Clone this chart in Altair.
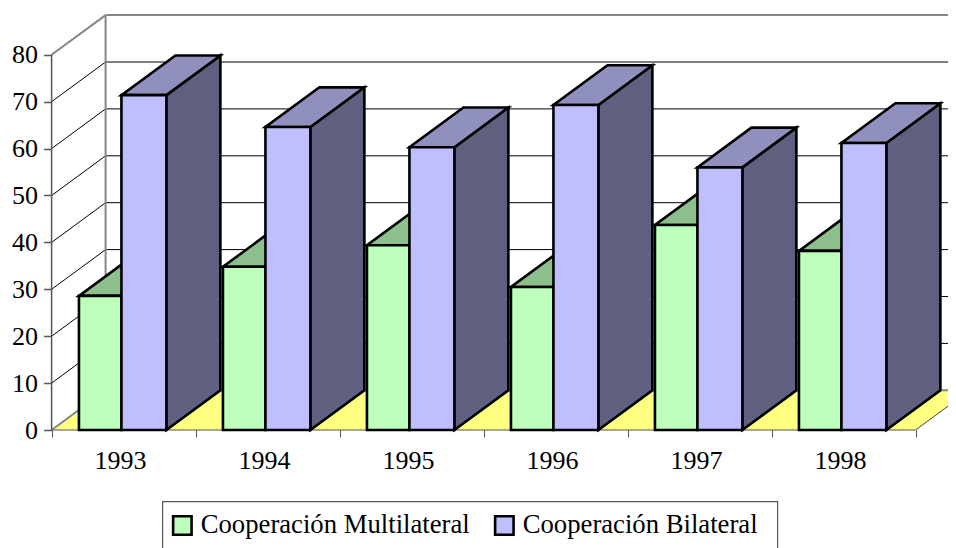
import altair as alt
import pandas as pd

years = ["1993", "1994", "1995", "1996", "1997", "1998"]
multilateral = [28.6, 34.8, 39.4, 30.5, 43.7, 38.2]
bilateral = [71.4, 64.6, 60.3, 69.3, 56.0, 61.2]
y_ticks = [0, 10, 20, 30, 40, 50, 60, 70, 80]
SER_M = "Cooperación Multilateral"
SER_B = "Cooperación Bilateral"

PITCH = 144.0
X0, Y0, PPU = 51.6, 430.0, 4.69
W, H = 940, 540
DX, DY = 54 / PITCH, 39.7 / PPU
N = len(years)
G0, G1, B1 = 0.19, 0.485, 0.797
STROKE = 2.6

x_scale = alt.Scale(domain=[(8 - X0) / PITCH, (8 + W - X0) / PITCH], nice=False, zero=False)
y_scale = alt.Scale(domain=[(Y0 - 8 - H) / PPU, (Y0 - 8) / PPU], nice=False, zero=False)
X = lambda f: alt.X(f, type="quantitative", scale=x_scale, axis=None)
Y = lambda f: alt.Y(f, type="quantitative", scale=y_scale, axis=None, stack=None)

# walls
side_lines = pd.DataFrame(
    [dict(v=v, x=x, y=v + d) for v in y_ticks for x, d in ((0, 0), (DX, DY))]
)
side_thin = (
    alt.Chart(side_lines[(side_lines.v > 0) & (side_lines.v < 80)])
    .mark_line(color="#000000", strokeWidth=1)
    .encode(x=X("x"), y=Y("y"), detail="v:N")
)
side_edge = (
    alt.Chart(side_lines[side_lines.v.isin([0, 80])])
    .mark_line(color="#868686", strokeWidth=2)
    .encode(x=X("x"), y=Y("y"), detail="v:N")
)
back = pd.DataFrame(
    [dict(v=v, x=DX, x2=N + DX, y=v + DY) for v in y_ticks]
)
back_thin = (
    alt.Chart(back[(back.v > 0) & (back.v < 80)])
    .mark_rule(color="#000000", strokeWidth=1)
    .encode(x=X("x"), x2="x2", y=Y("y"))
)
back_top = (
    alt.Chart(back[back.v.isin([80])])
    .mark_rule(color="#868686", strokeWidth=2)
    .encode(x=X("x"), x2="x2", y=Y("y"))
)
wall_left = (
    alt.Chart(pd.DataFrame([dict(x=DX, y=DY, y2=80 + DY)]))
    .mark_rule(color="#868686", strokeWidth=2)
    .encode(x=X("x"), y=Y("y"), y2="y2")
)
front_left = (
    alt.Chart(pd.DataFrame([dict(x=0, y=0, y2=80)]))
    .mark_rule(color="#555555", strokeWidth=1.5)
    .encode(x=X("x"), y=Y("y"), y2="y2")
)

# floor
floor_df = pd.DataFrame(
    [dict(y=0, x=0, x2=N), dict(y=DY, x=DX, x2=N + DX)]
)
floor = (
    alt.Chart(floor_df)
    .mark_area(orient="horizontal", color="#FFFF80")
    .encode(y=Y("y"), x=X("x"), x2="x2")
)
floor_back = (
    alt.Chart(back[back.v == 0])
    .mark_rule(color="#868686", strokeWidth=2)
    .encode(x=X("x"), x2="x2", y=Y("y"))
)
floor_right = (
    alt.Chart(pd.DataFrame([dict(x=N, y=0), dict(x=N + DX, y=DY)]))
    .mark_line(color="#444444", strokeWidth=1)
    .encode(x=X("x"), y=Y("y"))
)


def top_df(values, a, b):
    rows = []
    for i, (yr, v) in enumerate(zip(years, values)):
        rows.append(dict(year=yr, y=v, x=i + a, x2=i + b))
        rows.append(dict(year=yr, y=v + DY, x=i + a + DX, x2=i + b + DX))
    return pd.DataFrame(rows)


def top_layer(values, a, b, col):
    return (
        alt.Chart(top_df(values, a, b))
        .mark_area(orient="horizontal", color=col, stroke="#000000", strokeWidth=STROKE, strokeJoin="miter")
        .encode(y=Y("y"), x=X("x"), x2="x2", detail="year:N")
    )


side_rows = []
for i, (yr, v) in enumerate(zip(years, bilateral)):
    side_rows.append(dict(year=yr, x=i + B1, y=0, y2=v))
    side_rows.append(dict(year=yr, x=i + B1 + DX, y=DY, y2=v + DY))
blue_side = (
    alt.Chart(pd.DataFrame(side_rows))
    .mark_area(color="#5F5F80", stroke="#000000", strokeWidth=STROKE, strokeJoin="miter")
    .encode(x=X("x"), y=Y("y"), y2="y2", detail="year:N")
)

# legend box: frame around the legend, open past the bottom of the page
box = (
    alt.Chart(pd.DataFrame([dict(
        x=(162.6 - X0) / PITCH, x2=(777.6 - X0) / PITCH,
        y=(Y0 - 501.7) / PPU, y2=(Y0 - 570) / PPU,
    )]))
    .mark_rect(fill="#FFFFFF", stroke="#555555", strokeWidth=1.2)
    .encode(x=X("x"), x2="x2", y=Y("y"), y2="y2")
)

# fronts (carry the legend)
front_rows = []
for i, yr in enumerate(years):
    front_rows.append(dict(year=yr, series=SER_M, x=i + G0, x2=i + G1, y=0, y2=multilateral[i]))
    front_rows.append(dict(year=yr, series=SER_B, x=i + G1, x2=i + B1, y=0, y2=bilateral[i]))
fronts = (
    alt.Chart(pd.DataFrame(front_rows))
    .mark_bar(stroke="#000000", strokeWidth=STROKE)
    .encode(
        x=X("x"),
        x2="x2",
        y=Y("y"),
        y2="y2",
        color=alt.Color(
            "series:N",
            scale=alt.Scale(domain=[SER_M, SER_B], range=["#BBFFBB", "#BFBFFF"]),
            legend=alt.Legend(
                orient="none",
                legendX=161,
                legendY=504,
                direction="horizontal",
                columns=2,
                title=None,
                padding=0,
                symbolType="square",
                symbolSize=340,
                symbolStrokeColor="#000000",
                symbolStrokeWidth=2.6,
                symbolOpacity=1,
                labelFont="Liberation Serif",
                labelFontSize=26.7,
                labelColor="#000000",
                labelOffset=5,
                labelLimit=0,
                columnPadding=19,
            ),
        ),
    )
)

# axes
y_axis = (
    alt.Chart(pd.DataFrame(dict(v=y_ticks)))
    .mark_tick(opacity=0)
    .encode(
        y=alt.Y(
            "v:Q",
            scale=y_scale,
            axis=alt.Axis(
                values=y_ticks,
                orient="left",
                offset=-(X0 - 8),
                title=None,
                domain=False,
                grid=False,
                tickColor="#555555",
                tickSize=8,
                tickWidth=1.5,
                labelFont="Liberation Serif",
                labelFontSize=26,
                labelColor="#000000",
                labelPadding=6,
            ),
        )
    )
)
x_ticks = list(range(N + 1))
x_axis = (
    alt.Chart(pd.DataFrame(dict(v=x_ticks)))
    .mark_tick(opacity=0)
    .encode(
        x=alt.X(
            "v:Q",
            scale=x_scale,
            axis=alt.Axis(
                values=x_ticks,
                orient="bottom",
                offset=-(8 + H - Y0),
                title=None,
                domain=False,
                grid=False,
                labels=False,
                tickColor="#555555",
                tickSize=7,
                tickWidth=1,
            ),
        )
    )
)
label_pos = [i + 0.475 for i in range(N)]
year_list = "[" + ",".join(f"'{y}'" for y in years) + "]"
x_labels = (
    alt.Chart(pd.DataFrame(dict(v=label_pos)))
    .mark_tick(opacity=0)
    .encode(
        x=alt.X(
            "v:Q",
            scale=x_scale,
            axis=alt.Axis(
                values=label_pos,
                orient="bottom",
                offset=-(8 + H - Y0),
                title=None,
                domain=False,
                grid=False,
                ticks=False,
                labelExpr=f"{year_list}[floor(datum.value)]",
                labelFont="Liberation Serif",
                labelFontSize=26,
                labelColor="#000000",
                labelPadding=17,
                labelFlush=False,
                labelOverlap=False,
            ),
        )
    )
)
axis_line = (
    alt.Chart(pd.DataFrame([dict(x=0, x2=N, y=0)]))
    .mark_rule(color="#555555", strokeWidth=1)
    .encode(x=X("x"), x2="x2", y=Y("y"))
)

chart = (
    alt.layer(
        side_thin, back_thin, floor, floor_back, floor_right,
        side_edge, back_top, wall_left, front_left, axis_line,
        y_axis, x_axis, x_labels,
        top_layer(multilateral, G0, G1, "#8CBF8C"),
        blue_side,
        top_layer(bilateral, G1, B1, "#9090BF"),
        box,
        fronts,
    )
    .resolve_scale(x="shared", y="shared")
    .resolve_axis(x="independent", y="independent")
    .properties(
        width=W,
        height=H,
        padding=0,
        autosize=alt.AutoSizeParams(type="none"),
        background="#FFFFFF",
    )
    .configure_view(stroke=None)
)

chart.save("out.html", embed_options={"renderer": "svg", "actions": False})
